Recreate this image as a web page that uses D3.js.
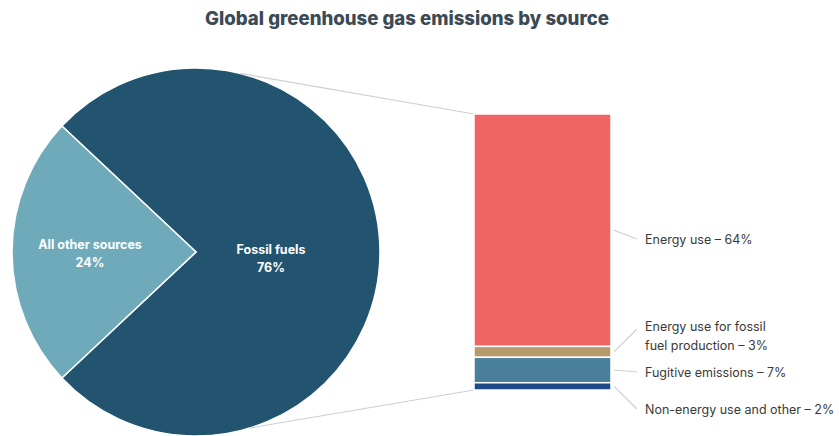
<!DOCTYPE html>
<html><head><meta charset="utf-8">
<script src="https://cdn.jsdelivr.net/npm/d3@7"></script>
<style>
body{margin:0;background:#fff;}
svg{display:block;font-family:Inter,"Open Sans",sans-serif;}
</style></head>
<body><svg id="c" width="839" height="436"></svg>
<script>
const title = "Global greenhouse gas emissions by source";
const pieLabels = ["Fossil fuels", "All other sources"];
const pieValues = [76, 24];
const pieColors = ["#22536f", "#6faabb"];
const barLabels = [["Energy use – 64%"], ["Energy use for fossil", "fuel production – 3%"], ["Fugitive emissions – 7%"], ["Non-energy use and other – 2%"]];
const barValues = [64, 3, 7, 2];
const barColors = ["#f06464", "#b89a6a", "#4a7f9c", "#1e4a8a"];

const svg = d3.select("#c");
svg.append("text").attr("x", 407).attr("y", 25).attr("text-anchor", "middle")
  .attr("font-size", 18.6).attr("font-weight", 800).attr("fill", "#3b4a55").text(title);

// pie
const cx = 196, cy = 252, R = 184;
const otherShare = pieValues[1] / d3.sum(pieValues);
const start = -(Math.PI / 2 - otherShare * Math.PI);
const pie = d3.pie().sort(null).startAngle(start).endAngle(start + 2 * Math.PI);
const arcs = pie(pieValues);
const arc = d3.arc().innerRadius(0).outerRadius(R);
const g = svg.append("g").attr("transform", `translate(${cx},${cy})`);
g.selectAll("path").data(arcs).join("path").attr("d", arc)
  .attr("fill", (d, i) => pieColors[i]).attr("stroke", "#fff").attr("stroke-width", 1.5);
const labelPos = [[75, 2], [-106, -3]];
arcs.forEach((d, i) => {
  const t = g.append("text").attr("text-anchor", "middle").attr("fill", "#fff")
    .attr("font-size", 12.5).attr("font-weight", 700);
  t.append("tspan").attr("x", labelPos[i][0]).attr("y", labelPos[i][1]).text(pieLabels[i]);
  t.append("tspan").attr("x", labelPos[i][0]).attr("y", labelPos[i][1] + 18).text(pieValues[i] + "%");
});

// bar
const bx = 474, bw = 137;
const y = d3.scaleLinear().domain([0, d3.sum(barValues)]).range([114, 390]);
const stacks = [];
let acc = 0;
barValues.forEach(v => { stacks.push([acc, acc + v]); acc += v; });

// connecting lines
const a1 = 14 * Math.PI / 180, a2 = 163 * Math.PI / 180;
const p1 = [cx + R * Math.sin(a1), cy - R * Math.cos(a1)];
const p2 = [cx + R * Math.sin(a2), cy - R * Math.cos(a2)];
svg.append("line").attr("x1", p1[0]).attr("y1", p1[1]).attr("x2", bx).attr("y2", y(0))
  .attr("stroke", "#cfcfcf").attr("stroke-width", 1.2);
svg.append("line").attr("x1", p2[0]).attr("y1", p2[1]).attr("x2", bx).attr("y2", y(acc))
  .attr("stroke", "#cfcfcf").attr("stroke-width", 1.2);

svg.selectAll("rect.seg").data(stacks).join("rect").attr("class", "seg")
  .attr("x", bx).attr("width", bw)
  .attr("y", d => y(d[0])).attr("height", d => y(d[1]) - y(d[0]))
  .attr("fill", (d, i) => barColors[i]).attr("stroke", "#fff").attr("stroke-width", 1.5);

// labels with leader lines
const labelY = [239, 336, 372, 409];
const lx = 645;
stacks.forEach((s, i) => {
  const my = (y(s[0]) + y(s[1])) / 2;
  const ly = labelY[i];
  const endY = i === 1 ? 329 : ly;
  svg.append("line").attr("x1", bx + bw + 3).attr("y1", my).attr("x2", 637).attr("y2", endY)
    .attr("stroke", "#cfcfcf").attr("stroke-width", 1.2);
  const lines = barLabels[i];
  const t = svg.append("text").attr("fill", "#3a3a3a").attr("font-size", 12.5);
  lines.forEach((l, j) => {
    t.append("tspan").attr("x", lx).attr("y", ly + 4.5 + (j - (lines.length - 1) / 2) * 19).text(l);
  });
});
</script></body></html>
